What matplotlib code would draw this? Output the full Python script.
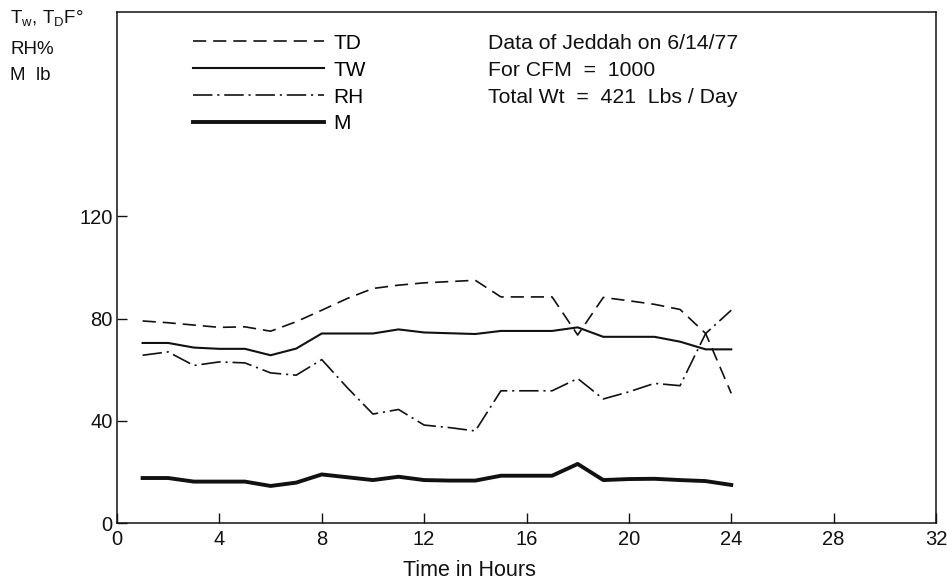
import numpy as np
import matplotlib.pyplot as plt

# readings for Jeddah, 6/14/77, hourly
hours = list(range(1, 25))
td = [79.1, 78.4, 77.5, 76.6, 76.8, 75.1, 78.8, 83.3, 87.9, 91.8, 93.1, 94.0,
      94.5, 95.0, 88.5, 88.5, 88.5, 73.6, 88.3, 87.0, 85.6, 83.6, 74.2, 50.8]
tw = [70.5, 70.5, 68.7, 68.2, 68.2, 65.7, 68.3, 74.2, 74.2, 74.2, 75.8, 74.6,
      74.3, 74.0, 75.2, 75.2, 75.2, 76.6, 72.9, 72.9, 72.9, 71.0, 68.0, 68.0]
rh = [65.7, 67.0, 61.7, 63.1, 62.7, 58.8, 57.9, 64.0, 53.0, 42.7, 44.5, 38.4,
      37.4, 36.1, 51.8, 51.8, 51.8, 56.6, 48.6, 51.4, 54.7, 53.8, 74.2, 83.3]
m = [17.7, 17.7, 16.3, 16.3, 16.3, 14.6, 15.9, 19.1, 18.0, 16.9, 18.2, 16.9,
     16.7, 16.7, 18.6, 18.6, 18.6, 23.2, 16.9, 17.3, 17.4, 16.9, 16.5, 15.0]

xticks = list(range(0, 33, 4))
yticks = [0, 40, 80, 120]
notes = ["Data of Jeddah on 6/14/77", "For CFM  =  1000", "Total Wt  =  421  Lbs / Day"]
ylab = ["T$_\\mathregular{w}$, T$_\\mathregular{D}$F\u00b0", "RH%", "M  lb"]

plt.rcParams['font.family'] = ['Liberation Sans', 'DejaVu Sans']
plt.rcParams['lines.scale_dashes'] = False

W, H = 947, 581
ink = '#111111'

fig = plt.figure(figsize=(W / 100, H / 100), dpi=100)
ax = fig.add_axes([117 / W, 1 - 523.3 / H, (936 - 117) / W, (523.3 - 11.7) / H])

ax.plot(hours, td, color=ink, lw=1.2, dashes=(9.5, 5), label='TD')
ax.plot(hours, tw, color=ink, lw=1.5, label='TW')
ax.plot(hours, rh, color=ink, lw=1.2, dashes=(14, 3.5, 1.5, 3.5), label='RH')
ax.plot(hours, m, color=ink, lw=2.8, label='M')

ax.set_xlim(0, 32)
ax.set_ylim(0, 200)
ax.set_xticks(xticks)
ax.set_yticks(yticks)
ax.tick_params(direction='in', length=7, width=1, labelsize=14.5, colors=ink)
ax.tick_params(axis='x', pad=5)
ax.tick_params(axis='y', pad=3)
for s in ax.spines.values():
    s.set_linewidth(1.1)
    s.set_color(ink)

ax.set_xlabel('Time in Hours', fontsize=15.5, color=ink)
ax.xaxis.set_label_coords(0.4304, -0.071)

ax.legend(loc='upper left', bbox_to_anchor=(0.0928, 0.957), frameon=False,
          fontsize=15, handlelength=6.3, handletextpad=0.45, labelspacing=0.38,
          borderpad=0, borderaxespad=0)

# notes, placed by pixel baseline
for i, t in enumerate(notes):
    fig.text(488 / W, 1 - (49.3 + 27 * i) / H, t, fontsize=15.3, color=ink,
             va='baseline')

for t, yb in zip(ylab, [23.8, 53.8, 79.8]):
    fig.text(10 / W, 1 - yb / H, t, fontsize=13.5, color=ink, va='baseline')

fig.savefig('out.png', dpi=100)
